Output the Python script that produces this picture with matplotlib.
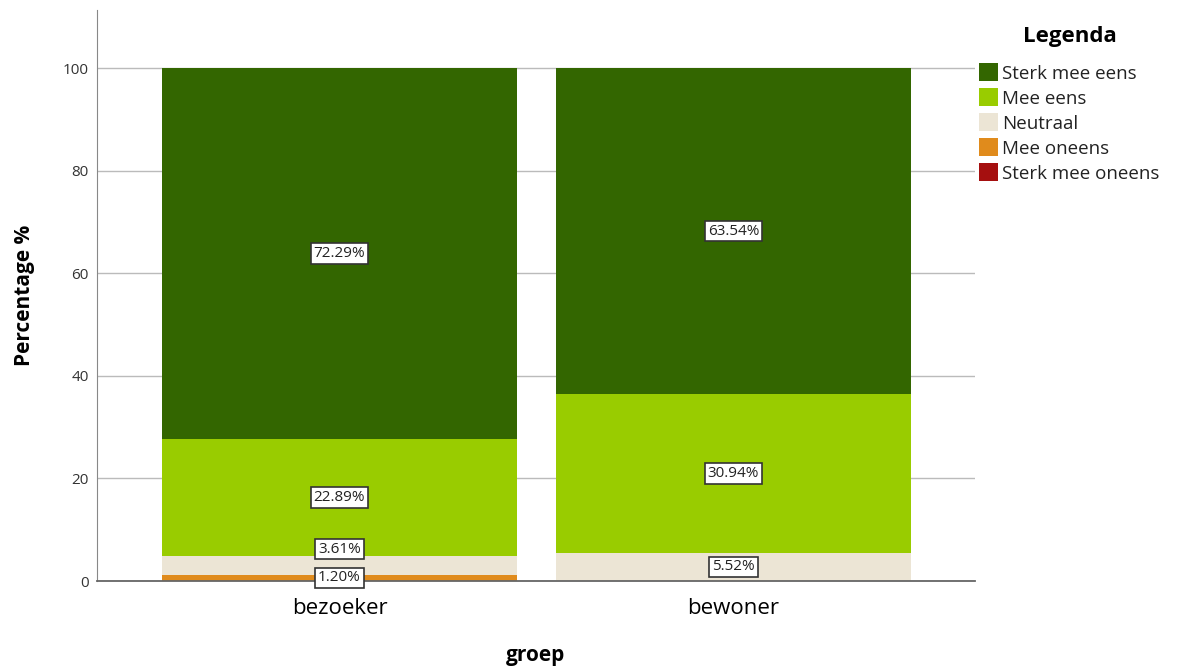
import numpy as np
import matplotlib.pyplot as plt

plt.rcParams['font.family'] = ['Open Sans', 'DejaVu Sans']

groups = ["bezoeker", "bewoner"]
# stacked bottom -> top
categories = ["Sterk mee oneens", "Mee oneens", "Neutraal", "Mee eens", "Sterk mee eens"]
sterk_oneens = [0.0, 0.0]
oneens = [1.20, 0.0]
neutraal = [3.61, 5.52]
eens = [22.89, 30.94]
sterk_eens = [72.29, 63.54]
colors = ["#a50f0f", "#e08b1c", "#ece5d5", "#99cc00", "#336600"]

series = [sterk_oneens, oneens, neutraal, eens, sterk_eens]

fig = plt.figure(figsize=(11.84, 6.71), dpi=100)
ax = fig.add_axes([0.0819, 0.1341, 0.7416, 0.8509])

x = np.arange(len(groups))
bottom = np.zeros(len(groups))
bars = []
for vals, col, name in zip(series, colors, categories):
    b = ax.bar(x, vals, width=0.9, bottom=bottom, color=col, label=name, zorder=2)
    bars.append(b)
    bottom = bottom + np.array(vals)

# value labels, pushed up when they would overlap
for i in range(len(groups)):
    base = 0.0
    prev = -10.0
    for vals in series:
        v = vals[i]
        if v > 0:
            yc = max(base + v / 2, prev + 5.6)
            ax.text(x[i], yc, f"{v:.2f}%", ha="center", va="center", fontsize=11,
                    color="#222222", zorder=4,
                    bbox=dict(boxstyle="square,pad=0.18", fc="white", ec="#333333", lw=1.2))
            prev = yc
        base += v

ax.set_xlim(-0.6155, 1.613)
ax.set_ylim(0, 111.3)
ax.set_yticks([0, 20, 40, 60, 80, 100])
ax.yaxis.grid(True, color="#bbbbbb", lw=1, zorder=0)
ax.set_axisbelow(True)
ax.tick_params(axis="y", length=0, labelsize=11, colors="#333333", pad=6)
ax.tick_params(axis="x", length=0, labelsize=16, pad=12)
ax.set_xticks(x)
ax.set_xticklabels(groups)
for s in ["top", "right"]:
    ax.spines[s].set_visible(False)
ax.spines["left"].set_color("#888888")
ax.spines["bottom"].set_color("#666666")
ax.spines["bottom"].set_linewidth(1.3)
ax.set_ylabel("Percentage %", fontsize=15, fontweight="bold", labelpad=20)
ax.set_xlabel("groep", fontsize=15, fontweight="bold", labelpad=19)

handles = [bars[4], bars[3], bars[2], bars[1], bars[0]]
labels = [categories[4], categories[3], categories[2], categories[1], categories[0]]
leg = fig.legend(handles, labels, loc="upper left", bbox_to_anchor=(0.813, 0.987),
                 frameon=False, fontsize=13.5, title="Legenda",
                 title_fontproperties={"size": 16, "weight": "bold"},
                 handlelength=1.0, handleheight=1.1, handletextpad=0.2,
                 labelspacing=0.3)
for t in leg.get_texts():
    t.set_color("#222222")
leg._legend_box.sep = 12

fig.savefig("out.png", dpi=100)
